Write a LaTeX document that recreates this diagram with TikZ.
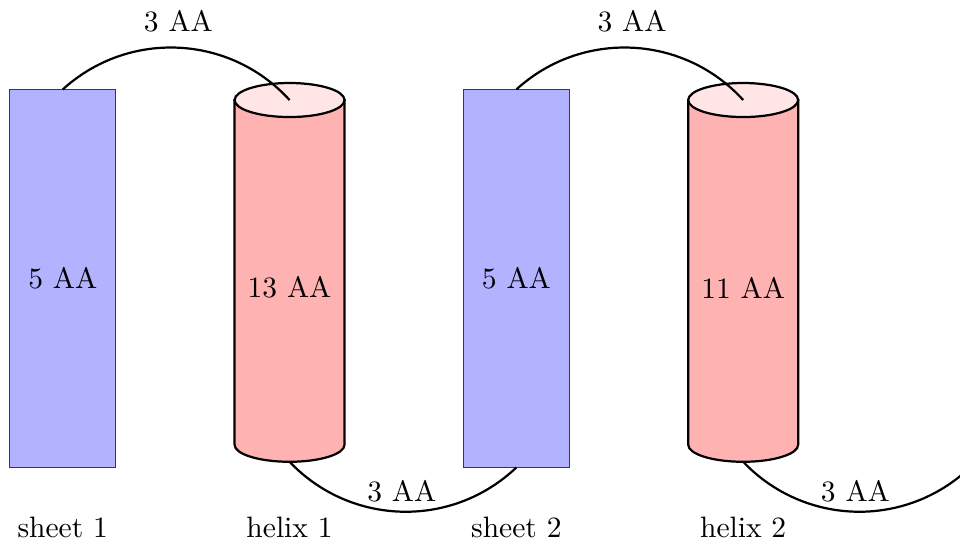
\documentclass[tikz,border=0pt]{standalone}
\usetikzlibrary{calc}

\tikzset{
  sheetbox/.style={rectangle, fill=blue!30, draw={rgb,255:red,55;green,55;blue,85}, line width=0.4pt,
    minimum width=35.84pt, minimum height=128pt, inner sep=0pt, outer sep=0pt},
  loopline/.style={line width=0.75pt},
  looplabel/.style={midway, above, inner sep=3pt},
  toplabel/.style={looplabel, yshift=1.8pt},
  sselabel/.style={anchor=center},
  helixbody/.style={fill=red!30, draw=black, line width=0.75pt},
  helixend/.style={fill=red!10, draw=black, line width=0.75pt},
  pics/helix/.style={
    code={
      % cylinder: body with lower half-ellipse, then the visible top cap
      \filldraw[helixbody] (-0.727,2.28) -- (-0.727,-2.28)
        arc[start angle=180, end angle=360, x radius=0.727, y radius=0.225]
        -- (0.727,2.28) -- cycle;
      \filldraw[helixend] (0,2.28) ellipse[x radius=0.727, y radius=0.225];
      \coordinate (-top) at (0,2.28);
      \coordinate (-bot) at (0,-2.505);
      \node (-text) at (0,-0.2) {#1};
    }
  }
}

\begin{document}
\begin{tikzpicture}[x=25.6pt, y=25.6pt]
  \useasboundingbox (0,0) rectangle (12.698,7.183);
  \clip (0,0) rectangle (12.698,7.183);

  % strands and helices
  \node[sheetbox] (s1) at (0.83,3.5) {5 AA};
  \pic (h1) at (3.83,3.58) {helix={13 AA}};
  \node[sheetbox] (s2) at (6.83,3.5) {5 AA};
  \pic (h2) at (9.83,3.58) {helix={11 AA}};
  \coordinate (s3) at (12.83,1.0);

  % connecting loops
  \draw[loopline] (s1.north) to[bend left=45] node[toplabel] {3 AA} (h1-top);
  \draw[loopline] (h1-bot) to[bend right=45] node[looplabel] {3 AA} (s2.south);
  \draw[loopline] (s2.north) to[bend left=45] node[toplabel] {3 AA} (h2-top);
  \draw[loopline] (h2-bot) to[bend right=45] node[looplabel] {3 AA} (s3);

  % element names
  \node[sselabel] (n1) at (0.83,0.21) {sheet 1};
  \node[sselabel] (n2) at (3.83,0.21) {helix 1};
  \node[sselabel] (n3) at (6.83,0.21) {sheet 2};
  \node[sselabel] (n4) at (9.83,0.21) {helix 2};
\end{tikzpicture}
\end{document}
